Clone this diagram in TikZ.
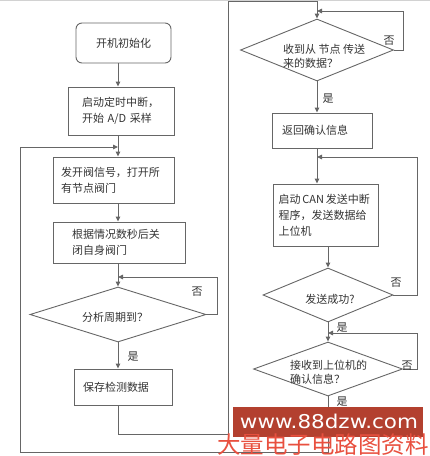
\documentclass[tikz,border=0pt]{standalone}
\usepackage{fontspec}
\usepackage{graphicx}
\setmainfont{Noto Sans CJK SC}
\newfontfamily\wmfont{DejaVu Sans}
\newfontfamily\cjk{Noto Sans CJK SC}
\usetikzlibrary{arrows.meta,shapes.geometric}
\definecolor{ln}{HTML}{666666}
\definecolor{tx}{HTML}{333333}
\definecolor{wmred}{HTML}{B3402F}
\definecolor{wmtxt}{HTML}{E8503F}
\begin{document}
\begin{tikzpicture}[x=1pt,y=-1pt,
  every node/.style={text=tx},
  box/.style={draw=ln, line width=0.9pt, inner ysep=0pt, align=left, font=\fontsize{11}{16}\selectfont},
  dia/.style={draw=ln, line width=0.9pt, shape=diamond, inner sep=0pt},
  dtext/.style={inner sep=0pt, align=left, font=\fontsize{11}{14}\selectfont},
  lab/.style={inner sep=0pt, font=\fontsize{11}{11}\selectfont},
  con/.style={draw=ln, line width=0.9pt},
  arr/.style={con, -{Triangle[length=5pt,width=4.5pt]}},
]
\useasboundingbox (0,0) rectangle (430,456);
\draw[gray!35, line width=1.2pt] (0,0.6) -- (430,0.6);

% left column
\node[box, rounded corners=6pt, minimum width=95pt, minimum height=40pt, align=center] (b1) at (123.5,43) {开机初始化};
\node[box, inner xsep=14pt, text width=78pt, minimum height=48pt] (b2) at (121,111) {启动定时中断，\\开始 A/D 采样};
\node[box, inner xsep=8pt, text width=105pt, minimum height=46pt] (b3) at (113.5,180) {发开阀信号，打开所\\有节点阀门};
\node[box, inner xsep=19pt, text width=94pt, minimum height=41pt] (b4) at (119,242.5) {根据情况数秒后关\\闭自身阀门};
\node[dia, minimum width=176pt, minimum height=55pt] (d1) at (118,314.5) {};
\node[dtext] (t1) at (115,317) {分析周期到？};
\node[box, inner xsep=9pt, text width=80pt, minimum height=36pt] (b5) at (123,387) {保存检测数据};

% right column
\node[dia, minimum width=153pt, minimum height=62pt] (d2) at (317,50) {};
\node[dtext, anchor=west] (t2) at (283,56) {收到从 节点 传送\\来的数据？};
\node[box, inner xsep=10pt, text width=80pt, minimum height=35pt] (b6) at (322,130.5) {返回确认信息};
\node[box, inner xsep=5.5pt, text width=94pt, minimum height=62pt] (b7) at (325.5,215) {\mbox{启动\,CAN\,发送中断}\\程序，发送数据给\\上位机};
\node[dia, minimum width=130pt, minimum height=54pt] (d3) at (328,295) {};
\node[dtext] (t3) at (330,299) {发送成功?};
\node[dia, minimum width=149pt, minimum height=54pt] (d4) at (328,369) {};
\node[dtext, anchor=west] (t4) at (290,372) {接收到上位机的\\确认信息？};

% junction coordinates
\coordinate (L) at (118,0);
\coordinate (R) at (317,0);
\coordinate (j1) at (118,277);
\coordinate (j2) at (317,11);
\coordinate (j3) at (317,157);
\coordinate (j4) at (328,333);
\coordinate (j5) at (118,147);

% left connectors
\draw[arr] (b1.south -| L) -- (b2.north -| L);
\draw[arr] (b2.south -| L) -- (b3.north -| L);
\draw[arr] (b3.south -| L) -- (b4.north -| L);
\draw[arr] (b4.south -| L) -- (d1.north);
\draw[arr] (d1.east) -- (217,314.5) |- (j1);
\draw[arr] (d1.south) -- (b5.north -| L);
\draw[arr] (b5.south -| L) -- (118,434) -| (228,1.5) -| (d2.north);

% right connectors
\draw[arr] (d2.east) -- (403,50) |- (j2);
\draw[arr] (d2.south) -- (b6.north -| R);
\draw[arr] (b6.south -| R) -- (b7.north -| R);
\draw[arr] (b7.south -| d3.north) -- (d3.north);
\draw[arr] (d3.east) -- (417,295) |- (j3);
\draw[arr] (d3.south) -- (d4.north);
\draw[arr] (d4.east) -- (417,369) |- (j4);
\draw[arr] (d4.south) -- (328,452) -| (20,147) -- (j5);

% branch labels
\node[lab] (n1) at (197,292) {否};
\node[lab] (y1) at (133,357) {是};
\node[lab] (n2) at (389,41) {否};
\node[lab] (y2) at (328,99) {是};
\node[lab] (n3) at (396,283) {否};
\node[lab] (y3) at (342,328) {是};
\node[lab] (n4) at (407,366) {否};

% watermark
\node[fill=wmred, minimum width=190pt, minimum height=30pt, inner sep=0pt] (wm) at (328,422) {};
\node[lab, fill=white, inner sep=0.5pt] (y4) at (342,402) {是};
\node[text=white, inner sep=0pt, font=\wmfont\fontsize{19}{19}\selectfont] (wmt) at (329,421) {\scalebox{1.13}[1]{www.88dzw.com}};
\node[text=wmtxt, anchor=north west, inner sep=0pt, font=\cjk\fontsize{23.5}{23.5}\selectfont] (wmc) at (217,434) {大量电子电路图资料};
\end{tikzpicture}
\end{document}
